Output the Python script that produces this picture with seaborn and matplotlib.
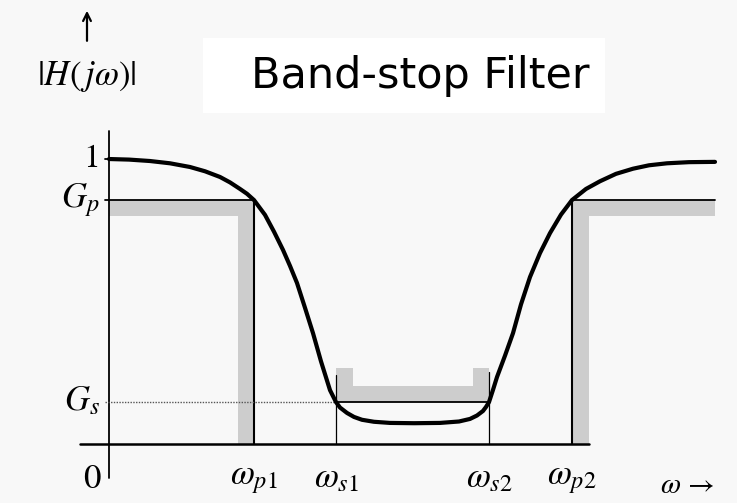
import numpy as np
import pandas as pd
import seaborn as sns
import matplotlib
matplotlib.use('Agg')
import matplotlib.pyplot as plt

# magnitude response (omega in arbitrary units, axis at 0)
omega = [0.00, 0.20, 0.41, 0.61, 0.81, 0.96, 1.11, 1.21, 1.31, 1.38, 1.45, 1.56,
         1.65, 1.74, 1.81, 1.88, 1.96, 2.04, 2.12, 2.21, 2.27, 2.31, 2.38, 2.45,
         2.53, 2.65, 2.81, 3.05, 3.31, 3.50, 3.61, 3.68, 3.74, 3.77, 3.80, 3.84,
         3.88, 3.96, 4.04, 4.12, 4.21, 4.31, 4.41, 4.52, 4.63, 4.77, 4.91, 5.07,
         5.24, 5.40, 5.58, 5.80, 6.06]
mag = [1.000, 0.998, 0.993, 0.985, 0.972, 0.957, 0.937, 0.918, 0.895, 0.878, 0.856, 0.804,
       0.745, 0.681, 0.625, 0.565, 0.478, 0.389, 0.290, 0.189, 0.147, 0.128, 0.109, 0.095,
       0.085, 0.078, 0.074, 0.073, 0.074, 0.079, 0.088, 0.100, 0.116, 0.130, 0.147, 0.190,
       0.235, 0.310, 0.389, 0.490, 0.586, 0.670, 0.740, 0.805, 0.856, 0.895, 0.922, 0.948,
       0.966, 0.978, 0.985, 0.989, 0.990]

# band edges and gains
w_p1, w_s1, w_s2, w_p2 = 1.45, 2.27, 3.80, 4.63
G_p, G_s = 0.856, 0.147
w_end = 6.06
tick_labels = ['0', r'$\omega_{p1}$', r'$\omega_{s1}$', r'$\omega_{s2}$', r'$\omega_{p2}$']
tick_pos = [0, w_p1, w_s1, w_s2, w_p2]

df = pd.DataFrame({'omega': omega, 'mag': mag})

sns.set_style('white')
plt.rcParams['mathtext.fontset'] = 'stix'
plt.rcParams['font.family'] = ['STIXGeneral', 'DejaVu Serif']
plt.rcParams['text.color'] = 'black'

fig = plt.figure(figsize=(7.37, 5.03), dpi=100)
fig.patch.set_facecolor('#f8f8f8')
ax = fig.add_axes([0, 0, 1, 1])
ax.set_facecolor('#f8f8f8')

gray = '#cdcdcd'
band_w = 0.165   # width of the shaded hatching
band_h = 0.056

# passband shading
ax.fill_between([0, w_p1], G_p - band_h, G_p, color=gray, lw=0)
ax.fill_between([w_p1 - band_w, w_p1], 0, G_p, color=gray, lw=0)
ax.fill_between([w_p2, w_end], G_p - band_h, G_p, color=gray, lw=0)
ax.fill_between([w_p2, w_p2 + band_w], 0, G_p, color=gray, lw=0)
# stopband shading
ax.fill_between([w_s1, w_s2], G_s, G_s + 0.055, color=gray, lw=0)
ax.fill_between([w_s1, w_s1 + 0.17], G_s, G_s + 0.118, color=gray, lw=0)
ax.fill_between([w_s2 - 0.16, w_s2], G_s, G_s + 0.118, color=gray, lw=0)

# axes lines
ax.plot([0, 0], [-0.12, 1.10], color='black', lw=1.3)
ax.plot([-0.29, w_p2 + band_w], [0, 0], color='black', lw=1.8)

# spec lines
ax.plot([-0.04, w_p1], [G_p, G_p], color='black', lw=1.3)
ax.plot([w_p2, w_end], [G_p, G_p], color='black', lw=1.3)
ax.plot([w_p1, w_p1], [0, G_p], color='black', lw=1.5)
ax.plot([w_p2, w_p2], [0, G_p], color='black', lw=1.5)
ax.plot([-0.04, w_s1], [G_s, G_s], color='#555555', lw=1.0, ls=(0, (1, 1)))
ax.plot([w_s1, w_s2], [G_s, G_s], color='black', lw=1.3)
ax.plot([w_s1, w_s1], [0, G_s + 0.095], color='black', lw=0.9)
ax.plot([w_s2, w_s2], [0, G_s + 0.105], color='black', lw=0.9)
ax.plot([-0.04, 0], [1, 1], color='black', lw=1.3)

# response curve
sns.lineplot(data=df, x='omega', y='mag', color='black', lw=3.0, ax=ax, sort=False)
ax.set_xlim(-1.09, 6.28)
ax.set_ylim(-0.207, 1.558)
ax.axis('off')

# y labels
ax.text(-0.09, 1.0, '1', ha='right', va='center', fontsize=24)
ax.text(-0.09, G_p, r'$G_p$', ha='right', va='center', fontsize=25)
ax.text(-0.09, G_s, r'$G_s$', ha='right', va='center', fontsize=25)
# x labels
for p, lab in zip(tick_pos, tick_labels):
    xx = p - 0.17 if lab == '0' else p
    ax.text(xx, -0.125, lab, ha='center', va='center', fontsize=25)
ax.text(5.78, -0.15, r'$\omega\,\rightarrow$', ha='center', va='center', fontsize=21)

ax.text(-0.22, 1.29, r'$|H(\,j\omega)|$', ha='center', va='center', fontsize=25)
ax.annotate('', xy=(-0.22, 1.53), xytext=(-0.22, 1.405),
            arrowprops=dict(arrowstyle='->', color='black', lw=1.6,
                            mutation_scale=14))

# title box
ax.fill_between([0.94, 4.96], 1.16, 1.425, color='white', lw=0)
ax.text(3.11, 1.29, 'Band-stop Filter', ha='center', va='center',
        fontsize=31, color='black', family=['DejaVu Sans'])

fig.savefig('out.png', dpi=100, facecolor=fig.get_facecolor())
